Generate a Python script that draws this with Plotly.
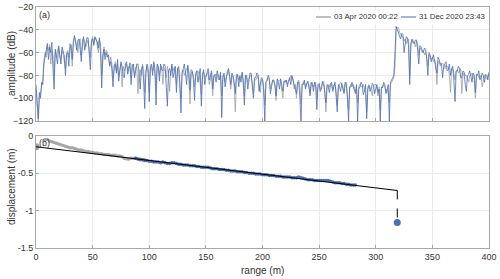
import plotly.graph_objects as go
from plotly.subplots import make_subplots

# ---------------- data ----------------
amp_range = list(range(0, 401))

amp_apr = [
    -92, -110, -120, -100, -96, -90, -84, -66, -60, -64, -55, -58, -53, -70, -58, -62, -80, -60, -64, -57,
    -56, -64, -66, -58, -62, -70, -74, -60, -58, -64, -52, -58, -72, -52, -47, -50, -55, -60, -50, -48,
    -62, -52, -48, -50, -55, -52, -49, -58, -64, -49, -46, -54, -48, -47, -52, -60, -49, -52, -80, -66,
    -55, -62, -58, -60, -66, -70, -64, -70, -82, -74, -68, -76, -70, -80, -74, -70, -90, -72, -76, -72,
    -70, -76, -72, -74, -82, -70, -74, -80, -73, -72, -96, -76, -75, -80, -70, -74, -95, -76, -72, -78,
    -95, -74, -72, -76, -71, -78, -90, -72, -73, -80, -74, -72, -88, -74, -75, -82, -72, -78, -94, -76,
    -72, -76, -73, -80, -88, -74, -74, -92, -100, -76, -75, -80, -76, -74, -74, -84, -105, -78, -77, -80,
    -90, -80, -78, -76, -79, -86, -97, -78, -77, -82, -80, -78, -78, -88, -84, -78, -98, -82, -80, -79,
    -79, -84, -82, -80, -98, -80, -80, -86, -81, -78, -76, -82, -92, -80, -82, -90, -112, -82, -80, -84,
    -80, -82, -79, -88, -98, -80, -82, -86, -82, -80, -80, -90, -96, -84, -84, -82, -80, -88, -95, -84,
    -84, -90, -106, -86, -84, -82, -84, -92, -88, -84, -86, -90, -102, -86, -85, -84, -85, -92, -100, -86,
    -84, -86, -88, -84, -84, -80, -82, -84, -92, -88, -100, -86, -84, -90, -105, -88, -86, -86, -90, -88,
    -86, -88, -96, -88, -86, -90, -88, -86, -100, -90, -88, -92, -90, -86, -88, -94, -112, -90, -88, -90,
    -87, -90, -92, -88, -88, -94, -106, -90, -88, -86, -88, -90, -94, -88, -86, -96, -110, -90, -88, -90,
    -88, -90, -94, -92, -104, -90, -88, -90, -90, -88, -92, -96, -112, -90, -88, -90, -93, -98, -89, -88,
    -88, -92, -98, -90, -110, -92, -90, -88, -90, -94, -92, -96, -104, -88, -86, -84, -82, -72, -40, -38,
    -38, -42, -45, -46, -46, -50, -48, -52, -50, -48, -80, -54, -49, -52, -51, -55, -50, -52, -62, -56,
    -57, -60, -58, -62, -60, -64, -72, -62, -63, -66, -64, -68, -66, -70, -88, -68, -68, -72, -69, -70,
    -70, -74, -71, -72, -73, -80, -95, -74, -74, -78, -84, -76, -75, -78, -76, -74, -96, -80, -78, -80,
    -80, -84, -86, -80, -80, -78, -81, -84, -100, -80, -79, -82, -82, -80, -90, -84, -80, -82, -83, -80,
    -78,
]

amp_dec = [
    -88, -104, -118, -95, -100, -86, -88, -70, -63, -58, -52, -66, -55, -60, -51, -74, -92, -57, -62, -70,
    -54, -61, -70, -55, -58, -63, -80, -62, -60, -72, -56, -53, -66, -50, -45, -52, -58, -49, -48, -57,
    -68, -50, -46, -58, -52, -47, -47, -62, -75, -50, -48, -53, -46, -49, -50, -56, -47, -60, -91, -62,
    -57, -66, -60, -64, -62, -72, -68, -74, -90, -71, -70, -78, -66, -85, -78, -68, -72, -80, -82, -70,
    -68, -79, -74, -69, -88, -72, -70, -82, -76, -70, -70, -77, -92, -75, -72, -84, -109, -78, -70, -74,
    -103, -72, -70, -80, -68, -74, -106, -70, -72, -85, -70, -75, -76, -70, -72, -90, -107, -76, -74, -80,
    -70, -82, -76, -72, -95, -74, -72, -86, -113, -78, -74, -70, -78, -88, -71, -77, -93, -75, -76, -84,
    -102, -78, -76, -86, -80, -74, -107, -80, -75, -88, -82, -76, -74, -84, -78, -76, -92, -80, -79, -86,
    -76, -80, -84, -77, -117, -82, -78, -90, -82, -76, -74, -84, -88, -78, -80, -86, -96, -79, -79, -90,
    -81, -86, -77, -84, -106, -80, -80, -92, -84, -78, -78, -88, -100, -82, -82, -78, -79, -94, -87, -82,
    -83, -92, -120, -86, -85, -80, -82, -96, -90, -84, -84, -88, -98, -83, -86, -92, -83, -88, -94, -85,
    -86, -84, -90, -85, -82, -88, -80, -84, -88, -94, -96, -86, -86, -100, -120, -88, -88, -84, -92, -87,
    -85, -90, -98, -86, -88, -94, -86, -90, -110, -88, -87, -94, -92, -85, -86, -96, -104, -88, -89, -95,
    -88, -86, -94, -90, -86, -98, -112, -88, -90, -94, -87, -92, -96, -86, -88, -100, -120, -90, -90, -86,
    -89, -93, -96, -88, -120, -92, -90, -86, -88, -97, -94, -88, -118, -92, -89, -94, -92, -87, -88, -96,
    -90, -88, -95, -92, -120, -90, -91, -86, -88, -96, -93, -88, -120, -86, -84, -82, -80, -60, -37, -40,
    -42, -46, -48, -43, -44, -60, -50, -46, -47, -55, -88, -52, -48, -50, -52, -49, -49, -58, -70, -54,
    -55, -58, -60, -56, -57, -66, -80, -60, -62, -68, -65, -62, -68, -72, -78, -64, -66, -70, -70, -82,
    -72, -70, -68, -76, -75, -70, -80, -74, -72, -84, -103, -76, -76, -72, -74, -82, -82, -76, -77, -88,
    -94, -80, -79, -76, -82, -86, -78, -80, -95, -79, -80, -76, -84, -82, -78, -80, -86, -79, -80, -84,
    -77,
]

gray_range = list(range(8, 99, 2))
gray_disp = [
    -0.05, -0.05, -0.07, -0.08, -0.09, -0.10, -0.11, -0.12, -0.13, -0.14,
    -0.15, -0.16, -0.16, -0.17, -0.18, -0.19, -0.19, -0.20, -0.21, -0.21,
    -0.22, -0.22, -0.23, -0.23, -0.24, -0.24, -0.25, -0.25, -0.25, -0.26,
    -0.26, -0.26, -0.27, -0.27, -0.28, -0.30, -0.31, -0.31, -0.30, -0.30,
    -0.30, -0.31, -0.31, -0.32, -0.32, -0.33,
]

blue_range = list(range(88, 283, 2))
blue_disp = [
    -0.30, -0.31, -0.32, -0.32, -0.33, -0.33, -0.34, -0.34, -0.35, -0.35,
    -0.35, -0.36, -0.35, -0.36, -0.37, -0.37, -0.36, -0.36, -0.37, -0.38,
    -0.38, -0.39, -0.39, -0.39, -0.40, -0.40, -0.40, -0.41, -0.41, -0.42,
    -0.42, -0.42, -0.42, -0.43, -0.44, -0.44, -0.44, -0.45, -0.45, -0.45,
    -0.46, -0.46, -0.47, -0.47, -0.47, -0.48, -0.48, -0.48, -0.49, -0.49,
    -0.50, -0.50, -0.50, -0.51, -0.51, -0.51, -0.52, -0.52, -0.52, -0.53,
    -0.53, -0.53, -0.54, -0.54, -0.54, -0.55, -0.55, -0.55, -0.55, -0.56,
    -0.56, -0.56, -0.55, -0.56, -0.57, -0.58, -0.59, -0.59, -0.59, -0.60,
    -0.60, -0.60, -0.60, -0.60, -0.60, -0.60, -0.61, -0.62, -0.63, -0.63,
    -0.63, -0.64, -0.64, -0.65, -0.65, -0.66, -0.66, -0.66,
]

ref_x = [0]
ref_y = [-0.147]
fit_x = [0, 319]
fit_y = [-0.147, -0.731]
outlier_x = [319, 319]
outlier_y = [-0.731, -1.16]
legend_names = ["03 Apr 2020 00:22", "31 Dec 2020 23:43"]

GRAY = "#a0a0a0"
BLUE = "#4a6fb1"
TXT = "#333333"
FONT = "Liberation Sans, Arial, sans-serif"

fig = make_subplots(rows=2, cols=1)

fig.add_trace(go.Scatter(x=amp_range, y=amp_apr, mode="lines", name=legend_names[0],
                         line=dict(color=GRAY, width=0.8)), row=1, col=1)
fig.add_trace(go.Scatter(x=amp_range, y=amp_dec, mode="lines", name=legend_names[1],
                         line=dict(color=BLUE, width=0.8)), row=1, col=1)

fig.add_trace(go.Scatter(x=gray_range, y=gray_disp, mode="markers",
                         marker=dict(color="#a6a6a6", size=3.5, line=dict(width=0))), row=2, col=1)
fig.add_trace(go.Scatter(x=blue_range, y=blue_disp, mode="markers",
                         marker=dict(color=BLUE, size=3.5, line=dict(width=0))), row=2, col=1)
fig.add_trace(go.Scatter(x=ref_x, y=ref_y, mode="markers",
                         marker=dict(color=GRAY, size=7, line=dict(width=0))), row=2, col=1)
fig.add_trace(go.Scatter(x=fit_x, y=fit_y, mode="lines",
                         line=dict(color="black", width=1.1)), row=2, col=1)
fig.add_trace(go.Scatter(x=outlier_x, y=outlier_y, mode="lines",
                         line=dict(color="black", width=1, dash="dash")), row=2, col=1)
fig.add_trace(go.Scatter(x=[outlier_x[1]], y=[outlier_y[1]], mode="markers",
                         marker=dict(color=BLUE, size=7, line=dict(width=0))), row=2, col=1)

axis_common = dict(showline=True, linecolor="#a8a8a8", linewidth=1, mirror=True,
                   showgrid=True, gridcolor="#ebebeb", gridwidth=1, zeroline=False,
                   ticks="inside", ticklen=3, tickcolor="#a8a8a8", automargin=False,
                   tickfont=dict(size=9, color=TXT, family=FONT))

fig.update_xaxes(range=[0, 400], tickvals=list(range(0, 401, 50)), **axis_common)
fig.update_xaxes(showticklabels=False, row=1, col=1)
fig.update_yaxes(range=[-120, -20], tickvals=list(range(-120, -19, 20)), row=1, col=1, **axis_common)
fig.update_yaxes(range=[-1.5, 0], tickvals=[-1.5, -1, -0.5, 0], ticktext=["-1.5", "-1", "-0.5", "0"],
                 row=2, col=1, **axis_common)


def px_x(p):
    return (p - 36) / 453


def px_y(p):
    return (248 - p) / 241


leg_y = px_y(17)
shapes = [
    dict(type="rect", xref="paper", yref="paper", x0=px_x(312), x1=px_x(486), y0=px_y(24), y1=px_y(10),
         fillcolor="white", line=dict(width=0), layer="above"),
    dict(type="line", xref="paper", yref="paper", x0=px_x(316), x1=px_x(331), y0=leg_y, y1=leg_y,
         line=dict(color="#808080", width=1), layer="above"),
    dict(type="line", xref="paper", yref="paper", x0=px_x(401), x1=px_x(416), y0=leg_y, y1=leg_y,
         line=dict(color=BLUE, width=1), layer="above"),
]

annotations = [
    dict(text=legend_names[0], xref="paper", yref="paper", x=px_x(332), y=leg_y, xanchor="left",
         yanchor="middle", showarrow=False, font=dict(size=7.8, color=TXT)),
    dict(text=legend_names[1], xref="paper", yref="paper", x=px_x(417), y=leg_y, xanchor="left",
         yanchor="middle", showarrow=False, font=dict(size=7.8, color=TXT)),
    dict(text="(a)", xref="paper", yref="paper", x=px_x(37), y=px_y(8), xanchor="left", yanchor="top",
         showarrow=False, font=dict(size=9, color=TXT)),
    dict(text="(b)", xref="paper", yref="paper", x=px_x(37), y=px_y(136), xanchor="left", yanchor="top",
         showarrow=False, font=dict(size=9, color=TXT)),
    dict(text="amplitude (dB)", xref="paper", yref="paper", x=px_x(11), y=px_y(64), xanchor="center",
         yanchor="middle", textangle=-90, showarrow=False, font=dict(size=10, color=TXT)),
    dict(text="displacement (m)", xref="paper", yref="paper", x=px_x(11), y=px_y(187), xanchor="center",
         yanchor="middle", textangle=-90, showarrow=False, font=dict(size=10, color=TXT)),
    dict(text="range (m)", xref="paper", yref="paper", x=px_x(262), y=px_y(270), xanchor="center",
         yanchor="middle", showarrow=False, font=dict(size=10, color=TXT)),
]

fig.update_layout(
    width=500, height=279,
    margin=dict(l=36, r=11, t=7, b=31, autoexpand=False),
    paper_bgcolor="white", plot_bgcolor="white",
    font=dict(family=FONT, size=9, color=TXT),
    showlegend=False,
    xaxis=dict(domain=[0, 1]), xaxis2=dict(domain=[0, 1]),
    yaxis=dict(domain=[px_y(121), 1.0]),
    yaxis2=dict(domain=[0.0, px_y(135.7)]),
    shapes=shapes,
    annotations=annotations,
)

fig.write_html("out.html", config={"displayModeBar": False},
               post_script="document.body.style.margin='0';document.body.style.overflow='hidden';")
